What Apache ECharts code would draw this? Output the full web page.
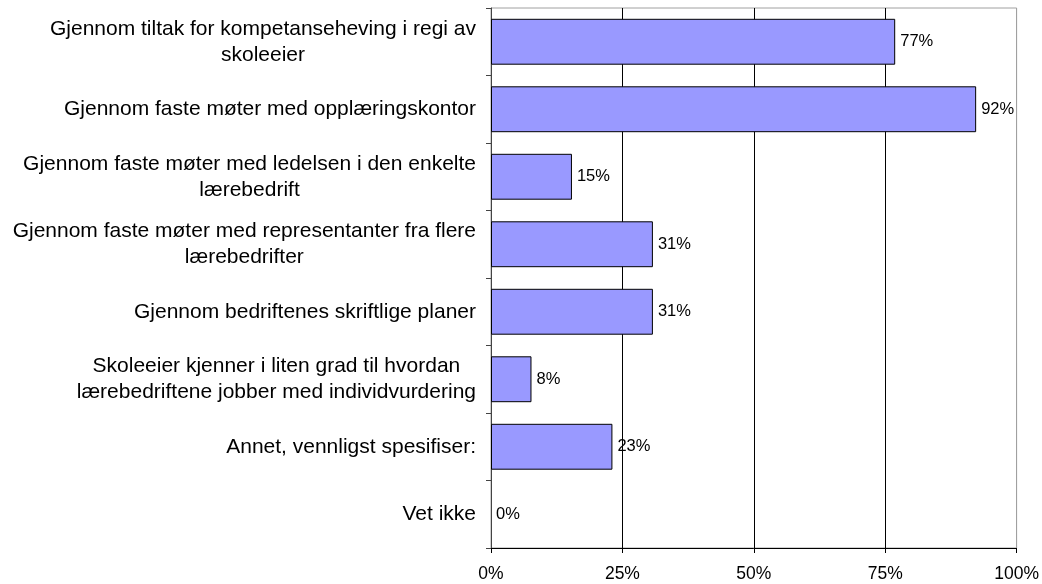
<!DOCTYPE html>
<html>
<head>
<meta charset="utf-8">
<script src="https://cdn.jsdelivr.net/npm/echarts@6/dist/echarts.min.js"></script>
<style>
  html, body { margin: 0; padding: 0; background: #fff; }
  #chart { width: 1042px; height: 584px; }
</style>
</head>
<body>
<div id="chart"></div>
<script>
// kategorier (linjeskift som i originalen)
var categories = [
  "Gjennom tiltak for kompetanseheving i regi av\nskoleeier",
  "Gjennom faste møter med opplæringskontor",
  "Gjennom faste møter med ledelsen i den enkelte\nlærebedrift",
  "Gjennom faste møter med representanter fra flere\nlærebedrifter",
  "Gjennom bedriftenes skriftlige planer",
  "Skoleeier kjenner i liten grad til hvordan\nlærebedriftene jobber med individvurdering",
  "Annet, vennligst spesifiser:",
  "Vet ikke"
];
// andel (%)
var values = [76.9, 92.3, 15.4, 30.8, 30.8, 7.7, 23.1, 0];
var xTicks = [0, 25, 50, 75, 100];

var font = '"Liberation Sans", Arial, sans-serif';
var chart = echarts.init(document.getElementById("chart"));

// 0-søyler tegnes uten kantlinje
var barData = values.map(function (v) {
  return v === 0 ? { value: v, itemStyle: { borderWidth: 0 } } : v;
});

chart.setOption({
  animation: false,
  grid: {
    left: 491,
    right: 25,
    top: 8,
    bottom: 36,
    show: true,
    borderColor: "#a0a0a0",
    borderWidth: 1
  },
  xAxis: {
    type: "value",
    min: xTicks[0],
    max: xTicks[xTicks.length - 1],
    interval: 25,
    axisLine: { show: true, lineStyle: { color: "#000", width: 1 } },
    axisTick: { show: true, length: 5, lineStyle: { color: "#000" } },
    axisLabel: {
      color: "#000",
      fontFamily: font,
      fontSize: 17.5,
      margin: 17,
      formatter: function (v) { return v + "%"; }
    },
    splitLine: {
      show: true,
      // siste linje er rammen (grå)
      lineStyle: { color: ["#000", "#000", "#000", "#000", "#a0a0a0"], width: 1 }
    }
  },
  yAxis: {
    type: "category",
    inverse: true,
    data: categories,
    axisLine: { show: true, lineStyle: { color: "#444", width: 1 } },
    axisTick: { show: true, length: 5, lineStyle: { color: "#444" } },
    axisLabel: {
      margin: 15,
      formatter: function (v) {
        return v.split("\n").map(function (s) { return "{c|" + s + "}"; }).join("\n");
      },
      rich: {
        c: {
          align: "center",
          color: "#000",
          fontFamily: font,
          fontSize: 21,
          lineHeight: 26
        }
      }
    }
  },
  series: [{
    type: "bar",
    data: barData,
    barCategoryGap: "32%",
    itemStyle: { color: "#9999ff", borderColor: "#000", borderWidth: 1 },
    label: {
      show: true,
      position: "right",
      distance: 5,
      color: "#000",
      fontFamily: font,
      fontSize: 16.5,
      formatter: function (p) { return Math.round(p.value) + "%"; }
    }
  }]
});
</script>
</body>
</html>
